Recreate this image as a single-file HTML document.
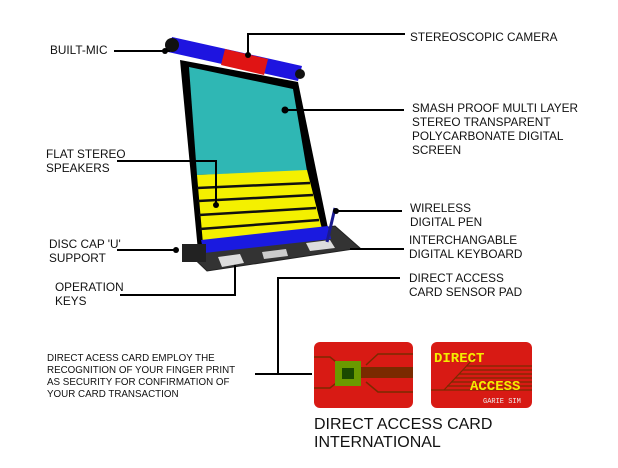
<!DOCTYPE html>
<html><head><style>
body{margin:0;background:#fff;}
svg{display:block;}
text{font-family:"Liberation Sans",Arial,sans-serif;fill:#111;}
.l{font-size:11.8px;}
.s{font-size:9.8px;}
</style></head><body>
<svg width="618" height="468" viewBox="0 0 618 468" xmlns="http://www.w3.org/2000/svg">
<!-- base -->
<polygon points="183,248 335,226 360,248 207,271" fill="#333" stroke="#222"/>
<polygon points="218,257 240,254 244,263 222,267" fill="#ddd"/>
<polygon points="262,252 286,249 288,256 264,259" fill="#ccc"/>
<polygon points="306,243 330,240 335,248 310,251" fill="#ddd"/>
<!-- screen frame -->
<polygon points="180,60 298,82 329,233 198,251" fill="#000"/>
<polygon points="189,67 293,89 307,171 197,175" fill="#2fb7b4"/>
<polygon points="197,175 307,170 322,229 203,244" fill="#f4f000"/>
<g stroke="#111" stroke-width="2.5">
<line x1="197" y1="188" x2="310" y2="183"/>
<line x1="198" y1="201" x2="313" y2="195"/>
<line x1="199" y1="215" x2="316" y2="208"/>
<line x1="200" y1="229" x2="319" y2="220"/>
</g>
<!-- bottom bar -->
<polygon points="201,240 328,226 331,239 204,253" fill="#1a1ae0"/>
<rect x="182" y="244" width="24" height="18" fill="#222"/>
<!-- pen -->
<line x1="335" y1="208" x2="327" y2="242" stroke="#1a1a90" stroke-width="3"/>
<!-- top bar -->
<polygon points="172,37 302,66 298,81 168,52" fill="#1e14e0"/>
<polygon points="225,49 268,59 264,75 221,65" fill="#e01414"/>
<circle cx="172" cy="45" r="7" fill="#111"/>
<circle cx="300" cy="74" r="5" fill="#111"/>
<!-- leaders -->
<g stroke="#000" stroke-width="2" fill="none">
<polyline points="248,56 248,34 405,34"/>
<line x1="114" y1="51" x2="170" y2="51"/>
<line x1="285" y1="110" x2="404" y2="110"/>
<polyline points="117,161 216,161 216,205"/>
<line x1="334" y1="211" x2="402" y2="211"/>
<line x1="350" y1="249" x2="404" y2="249"/>
<line x1="117" y1="250" x2="178" y2="250"/>
<polyline points="120,295 235,295 235,265"/>
<polyline points="400,278 278,278 278,374"/>
<line x1="255" y1="374" x2="312" y2="374"/>
</g>
<g fill="#000">
<circle cx="248" cy="55" r="3"/><circle cx="285" cy="110" r="3.5"/>
<circle cx="216" cy="205" r="3"/><circle cx="336" cy="211" r="3"/>
<circle cx="176" cy="250" r="3"/><circle cx="165" cy="51" r="3"/>
</g>
<!-- cards -->
<rect x="314" y="342" width="99" height="66" rx="6" fill="#d81a14"/>
<g stroke="#7a2a00" stroke-width="1.5" fill="none">
<polyline points="314,357 330,357 340,365"/><polyline points="314,388 330,388 340,380"/>
<polyline points="413,354 378,354 366,365"/><polyline points="413,392 378,392 366,382"/>
</g>
<rect x="360" y="367" width="53" height="11" fill="#7a2a00"/>
<rect x="335" y="361" width="26" height="25" fill="#6a9a00"/>
<rect x="342" y="368" width="12" height="11" fill="#1a4a00"/>
<rect x="431" y="342" width="101" height="66" rx="6" fill="#d81a14"/>
<g stroke="#7a2a00" stroke-width="1.2">
<line x1="467" y1="366" x2="532" y2="366"/><line x1="463" y1="370" x2="532" y2="370"/>
<line x1="459" y1="374" x2="532" y2="374"/><line x1="455" y1="378" x2="532" y2="378"/>
<line x1="451" y1="382" x2="532" y2="382"/><line x1="447" y1="386" x2="532" y2="386"/>
<line x1="431" y1="390" x2="532" y2="390"/><line x1="444" y1="390" x2="475" y2="357"/>
</g>
<text x="434" y="362" style="font-family:'Liberation Mono',monospace;font-size:14px;font-weight:bold;fill:#f4ee00">DIRECT</text>
<text x="470" y="390" style="font-family:'Liberation Mono',monospace;font-size:14px;font-weight:bold;fill:#f4ee00">ACCESS</text>
<text x="483" y="403" style="font-family:'Liberation Mono',monospace;font-size:7px;fill:#eee">GARIE SIM</text>
<!-- labels -->
<text class="l" x="410" y="41">STEREOSCOPIC CAMERA</text>
<text class="l" x="50" y="54">BUILT-MIC</text>
<text class="l" x="412" y="112">SMASH PROOF MULTI LAYER</text>
<text class="l" x="412" y="126">STEREO TRANSPARENT</text>
<text class="l" x="412" y="140">POLYCARBONATE DIGITAL</text>
<text class="l" x="412" y="154">SCREEN</text>
<text class="l" x="46" y="158">FLAT STEREO</text>
<text class="l" x="46" y="172">SPEAKERS</text>
<text class="l" x="410" y="212">WIRELESS</text>
<text class="l" x="410" y="226">DIGITAL PEN</text>
<text class="l" x="409" y="244">INTERCHANGABLE</text>
<text class="l" x="409" y="258">DIGITAL KEYBOARD</text>
<text class="l" x="49" y="248">DISC CAP 'U'</text>
<text class="l" x="49" y="262">SUPPORT</text>
<text class="l" x="409" y="282">DIRECT ACCESS</text>
<text class="l" x="409" y="296">CARD SENSOR PAD</text>
<text class="l" x="55" y="291">OPERATION</text>
<text class="l" x="55" y="305">KEYS</text>
<text class="s" x="47" y="361">DIRECT ACESS CARD EMPLOY THE</text>
<text class="s" x="47" y="373">RECOGNITION OF YOUR FINGER PRINT</text>
<text class="s" x="47" y="385">AS SECURITY FOR CONFIRMATION OF</text>
<text class="s" x="47" y="397">YOUR CARD TRANSACTION</text>
<text x="314" y="429" style="font-size:16px">DIRECT ACCESS CARD</text>
<text x="314" y="447" style="font-size:16px">INTERNATIONAL</text>
</svg>
</body></html>
